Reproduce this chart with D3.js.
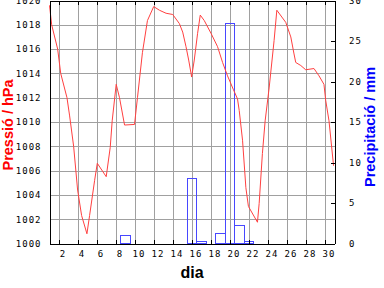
<!DOCTYPE html>
<html><head><meta charset="utf-8">
<script src="https://cdn.jsdelivr.net/npm/d3@7"></script>
<style>
body{margin:0;background:#fff}
svg{display:block;background:#fff}
.tick text{font-family:"DejaVu Sans Mono",monospace;font-size:9px;letter-spacing:1px;fill:#000}
.title{font-family:"Liberation Sans",Arial,sans-serif;font-weight:bold;font-size:14.5px}
</style></head><body>
<svg width="384" height="288"></svg>
<script>
// pressure trace (day of month, hPa)
const pressDays = [1.0,1.23,1.86,2.18,2.84,3.12,3.54,3.96,4.38,4.94,5.22,5.75,6.03,6.97,7.39,7.6,8.02,8.37,8.9,9.95,
  10.26,10.78,11.31,11.97,12.57,13.27,13.97,14.67,15.02,15.37,15.65,15.9,15.96,16.24,16.59,16.87,17.29,18.0,18.69,19.22,
  19.74,20.34,20.79,20.97,21.32,21.67,21.94,22.89,23.07,23.41,23.7,24.12,24.64,24.93,25.87,26.4,26.74,26.92,27.45,27.97,
  28.84,29.37,29.89,30.07,30.42,30.9];
const pressHpa = [1019.6,1018.0,1016.0,1014.0,1012.0,1010.5,1008.0,1004.4,1002.3,1000.8,1002.3,1005.2,1006.6,1005.5,1007.9,1010.1,1013.1,1012.0,1009.75,1009.8,
  1012.0,1015.7,1018.35,1019.5,1019.2,1018.95,1018.85,1018.1,1017.4,1016.2,1015.1,1014.0,1013.7,1015.1,1017.3,1018.8,1018.35,1017.3,1016.2,1014.9,
  1013.8,1012.7,1011.9,1010.95,1008.5,1004.6,1003.05,1001.75,1003.3,1007.4,1010.1,1012.8,1016.7,1019.2,1018.2,1017.0,1015.6,1014.9,1014.65,1014.3,
  1014.4,1013.8,1013.1,1011.8,1010.1,1006.4];
// daily rainfall
const rainDays = [9,16,17,19,20,21,22];
const rainMm   = [0.95,8.0,0.2,1.2,27.1,2.2,0.2];

const dayTicks = [2,4,6,8,10,12,14,16,18,20,22,24,26,28,30];
const hpaTicks = [1000,1002,1004,1006,1008,1010,1012,1014,1016,1018,1020];
const mmTicks  = [0,5,10,15,20,25,30];

const L=49.5, R=334.5, T=0.5, B=243.5;

const x  = d3.scaleLinear().domain([1,31]).range([L,R]);
const yP = d3.scaleLinear().domain([1000,1020]).range([B,T]);
const yR = d3.scaleLinear().domain([0,30]).range([B,T]);

const svg = d3.select('svg');

// grid
svg.append('g').attr('transform','translate(0,'+B+')')
  .call(d3.axisBottom(x).tickValues(dayTicks).tickSize(-(B-T)).tickFormat(''))
  .call(g=>{g.select('.domain').remove(); g.selectAll('line').attr('stroke','#a0a0a0');})
  .attr('shape-rendering','crispEdges');
svg.append('g').attr('transform','translate('+L+',0)')
  .call(d3.axisLeft(yP).tickValues(hpaTicks.slice(1,-1)).tickSize(-(R-L)).tickFormat(''))
  .call(g=>{g.select('.domain').remove(); g.selectAll('line').attr('stroke','#a0a0a0');})
  .attr('shape-rendering','crispEdges');

// rain bars
svg.append('g').selectAll('rect').data(rainDays).enter().append('rect')
  .attr('x',d=>x(d-0.5)).attr('width',d=>x(d+0.5)-x(d-0.5))
  .attr('y',(d,i)=>yR(rainMm[i])).attr('height',(d,i)=>B-yR(rainMm[i]))
  .attr('fill','none').attr('stroke','#4848ff').attr('shape-rendering','crispEdges');

// pressure line
const line = d3.line().x(d=>x(d)).y((d,i)=>yP(pressHpa[i]));
svg.append('path').datum(pressDays).attr('d',line)
  .attr('fill','none').attr('stroke','#ff4040').attr('stroke-width',1);

// axes
svg.append('g').attr('transform','translate(0,'+B+')')
  .call(d3.axisBottom(x).tickValues(dayTicks).tickSize(-4).tickSizeOuter(0).tickPadding(7.5))
  .call(g=>g.selectAll('text').attr('dx',3.5))
  .attr('shape-rendering','crispEdges');
svg.append('g').attr('transform','translate(0,'+T+')')
  .call(d3.axisTop(x).tickValues(dayTicks).tickSize(-4).tickSizeOuter(0).tickFormat(''))
  .attr('shape-rendering','crispEdges');
svg.append('g').attr('transform','translate('+L+',0)')
  .call(d3.axisLeft(yP).tickValues(hpaTicks).tickSize(0).tickSizeOuter(0).tickPadding(8).tickFormat(d3.format('d')))
  .attr('shape-rendering','crispEdges');
svg.append('g').attr('transform','translate('+R+',0)')
  .call(d3.axisRight(yR).tickValues(mmTicks).tickSize(-4).tickSizeOuter(0).tickPadding(14.5))
  .attr('shape-rendering','crispEdges');

// titles
svg.append('text').attr('class','title').attr('transform','translate(13,125) rotate(-90)')
  .attr('text-anchor','middle').attr('fill','#ff0000').text('Pressió / hPa');
svg.append('text').attr('class','title').attr('transform','translate(375,127) rotate(-90)')
  .attr('text-anchor','middle').attr('fill','#0000ff').text('Precipitació / mm');
svg.append('text').attr('class','title').attr('x',192).attr('y',278)
  .attr('text-anchor','middle').attr('fill','#000').style('font-size','16px').text('dia');
</script>
</body></html>
